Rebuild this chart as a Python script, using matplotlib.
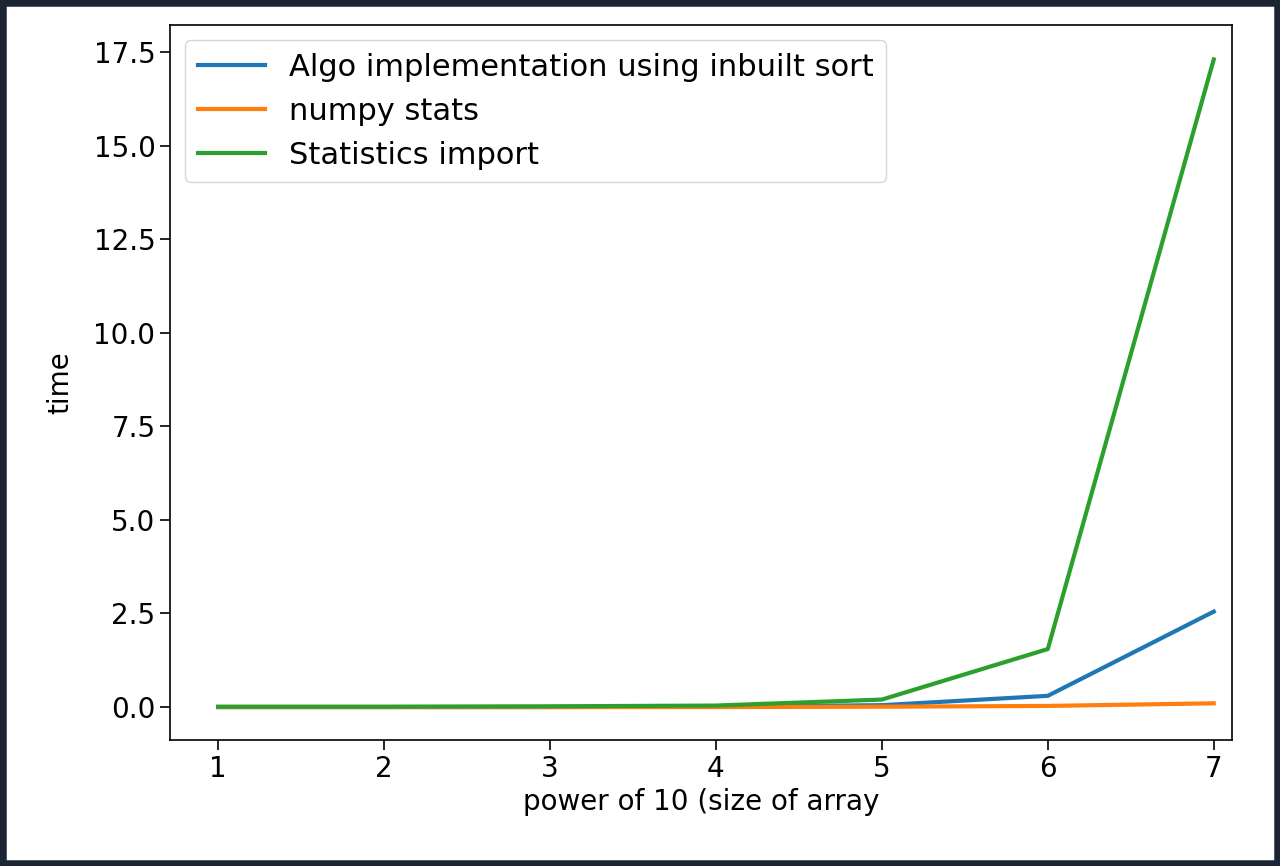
import matplotlib
matplotlib.use("Agg")
import matplotlib.pyplot as plt
from matplotlib.patches import Rectangle

x = [1, 2, 3, 4, 5, 6, 7]
algo = [0.0, 0.0, 0.0, 0.01, 0.05, 0.3, 2.55]
numpy_stats = [0.0, 0.0, 0.0, 0.0, 0.01, 0.03, 0.1]
statistics = [0.01, 0.01, 0.02, 0.04, 0.2, 1.55, 17.3]

fig = plt.figure(figsize=(12.8, 8.66), dpi=100)
fig.patches.append(Rectangle((0, 0), 1, 1, transform=fig.transFigure,
                             fill=False, edgecolor='#1b2533', linewidth=9, zorder=10))
ax = fig.add_axes([170/1280, 1-740/866, (1232-170)/1280, (740-25)/866])
ax.plot(x, algo, color='#1f77b4', lw=3, label='Algo implementation using inbuilt sort')
ax.plot(x, numpy_stats, color='#ff7f0e', lw=3, label='numpy stats')
ax.plot(x, statistics, color='#2ca02c', lw=3, label='Statistics import')
ax.set_xlim(0.71, 7.11)
ax.set_ylim(-0.88, 18.22)
ax.set_yticks([0, 2.5, 5, 7.5, 10, 12.5, 15, 17.5])
ax.tick_params(labelsize=20, length=7, width=1.2)
ax.set_xlabel('power of 10 (size of array', fontsize=20)
ax.set_ylabel('time', fontsize=20, labelpad=14)
ax.legend(loc='upper left', fontsize=22, handlelength=2.2)
for s in ax.spines.values():
    s.set_linewidth(1.2)
fig.savefig('out.png', dpi=100)
